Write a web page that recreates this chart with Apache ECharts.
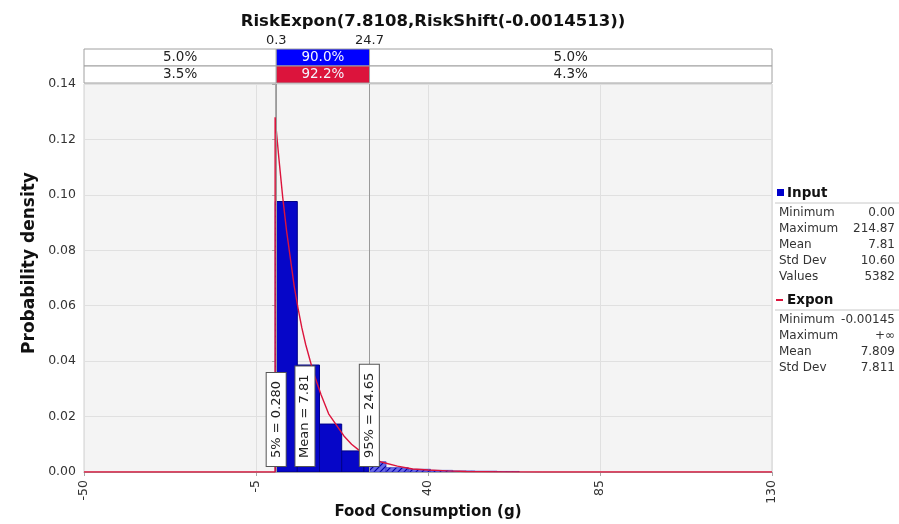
<!DOCTYPE html>
<html><head><meta charset="utf-8">
<script src="https://cdn.jsdelivr.net/npm/echarts@6/dist/echarts.min.js"></script>
<style>html,body{margin:0;padding:0;background:#fff}#c{width:899px;height:524px}</style>
</head><body><div id="c"></div>
<script>
// ---- data ----
const binStart = 0;
const binWidth = 5.807;
const binHeights = [0.0976, 0.0386, 0.0173, 0.0076, 0.0037, 0.0016, 0.0010, 0.0006, 0.0004, 0.0003, 0.0002];
const curveX = [-50, 0, 0, 1, 2, 3, 4, 5, 6, 7, 8, 10, 12, 14, 16, 18, 20, 22, 25, 28, 32, 36, 40, 45, 50, 60, 70, 90, 130];
const curveY = [0, 0, 0.128, 0.113, 0.099, 0.087, 0.077, 0.067, 0.059, 0.052, 0.046, 0.036, 0.028, 0.021, 0.017, 0.013, 0.010, 0.0078, 0.0052, 0.0035, 0.0021, 0.0011, 0.0007, 0.0004, 0.0002, 0.00006, 0.00002, 0, 0];
const markerValues = [0.28, 7.81, 24.65];
const markerLabels = ['5% = 0.280', 'Mean = 7.81', '95% = 24.65'];
const bandEdges = [0.3, 24.7];
const bandEdgeLabels = ['0.3', '24.7'];
const bandRowInput = ['5.0%', '90.0%', '5.0%'];
const bandRowFit = ['3.5%', '92.2%', '4.3%'];
const titleText = 'RiskExpon(7.8108,RiskShift(-0.0014513))';
const xTitle = 'Food Consumption (g)';
const yTitle = 'Probability density';
const inputStatNames = ['Minimum', 'Maximum', 'Mean', 'Std Dev', 'Values'];
const inputStatValues = ['0.00', '214.87', '7.81', '10.60', '5382'];
const fitStatNames = ['Minimum', 'Maximum', 'Mean', 'Std Dev'];
const fitStatValues = ['-0.00145', '+\u221e', '7.809', '7.811'];

// ---- styling ----
const FONT = 'DejaVu Sans';
const BLUE = '#0000ff';
const BAR = '#0606c8';
const RED = '#dc143c';
const XMIN = -50, XMAX = 130;

// hatch pattern
const pc = document.createElement('canvas');
pc.width = 6; pc.height = 6;
const g = pc.getContext('2d');
g.fillStyle = '#6a6ae8'; g.fillRect(0, 0, 6, 6);
g.strokeStyle = '#0000a8'; g.lineWidth = 1.2;
g.beginPath(); g.moveTo(0, 6); g.lineTo(6, 0); g.moveTo(-3, 3); g.lineTo(3, -3); g.moveTo(3, 9); g.lineTo(9, 3); g.stroke();
const HATCH = { image: pc, repeat: 'repeat' };

const barData = binHeights.map((h, i) => [binStart + i * binWidth, binStart + (i + 1) * binWidth, h]);
const curveData = curveX.map((x, i) => [x, curveY[i]]);
const bandData = [];
[bandRowInput, bandRowFit].forEach((row, r) => {
  const edges = [XMIN, bandEdges[0], bandEdges[1], XMAX];
  row.forEach((t, k) => bandData.push([r, edges[k], edges[k + 1], t, k === 1 ? (r === 0 ? BLUE : RED) : '#ffffff']));
});

const chart = echarts.init(document.getElementById('c'));
const grayLine = '#a8a8a8';

const statEls = [];
function addTable(y0, titleTxt, marker, names, vals) {
  statEls.push(marker);
  statEls.push({ type: 'text', x: 787, y: y0, style: { text: titleTxt, font: 'bold 13.5px ' + FONT, fill: '#111', verticalAlign: 'middle' } });
  statEls.push({ type: 'line', shape: { x1: 775, y1: y0 + 10, x2: 899, y2: y0 + 10 }, style: { stroke: '#c8c8c8', lineWidth: 1 } });
  names.forEach((n, i) => {
    const y = y0 + 20 + 16 * i;
    statEls.push({ type: 'text', x: 779, y: y, style: { text: n, font: '12px ' + FONT, fill: '#333', verticalAlign: 'middle', align: 'left' } });
    statEls.push({ type: 'text', x: 895, y: y, style: { text: vals[i], font: '12px ' + FONT, fill: '#333', verticalAlign: 'middle', align: 'right' } });
  });
}
addTable(193, 'Input', { type: 'rect', shape: { x: 777, y: 189, width: 7, height: 7 }, style: { fill: '#0000cc' } }, inputStatNames, inputStatValues);
addTable(300, 'Expon', { type: 'line', shape: { x1: 776, y1: 300, x2: 783, y2: 300 }, style: { stroke: RED, lineWidth: 2 } }, fitStatNames, fitStatValues);

chart.setOption({
  animation: false,
  backgroundColor: '#ffffff',
  title: {
    text: titleText, left: 428, top: 8, textAlign: 'center',
    textStyle: { fontFamily: FONT, fontSize: 16.5, fontWeight: 'bold', color: '#111' }
  },
  grid: [
    { left: 84, right: 127, top: 84, bottom: 52, outerBoundsMode: 'none', containLabel: false, show: true, backgroundColor: '#f4f4f4', borderColor: '#d0d0d0', borderWidth: 1 },
    { left: 84, right: 127, top: 49, height: 34, outerBoundsMode: 'none', containLabel: false }
  ],
  xAxis: [
    {
      type: 'value', gridIndex: 0, min: XMIN, max: XMAX, interval: 45,
      axisLine: { show: true, onZero: false, lineStyle: { color: grayLine } },
      axisTick: { show: true, length: 4, lineStyle: { color: grayLine } },
      axisLabel: { rotate: 90, fontSize: 12.5, fontFamily: FONT, color: '#333', margin: 8 },
      splitLine: { show: true, lineStyle: { color: '#e0e0e0' } }
    },
    {
      type: 'value', gridIndex: 1, min: XMIN, max: XMAX, position: 'top',
      axisLine: { show: false },
      axisTick: { show: true, customValues: bandEdges, length: 2, inside: true, lineStyle: { color: '#111', width: 3 } },
      axisLabel: { show: true, customValues: bandEdges, formatter: (v) => bandEdgeLabels[bandEdges.indexOf(v)] ?? '', fontSize: 13, fontFamily: FONT, color: '#222', margin: 2 },
      splitLine: { show: false }
    }
  ],
  yAxis: [
    {
      type: 'value', gridIndex: 0, min: 0, max: 0.14, interval: 0.02,
      axisLine: { show: true, lineStyle: { color: grayLine } },
      axisTick: { show: true, length: 3, lineStyle: { color: grayLine } },
      axisLabel: { formatter: (v) => v.toFixed(2), fontSize: 12.5, fontFamily: FONT, color: '#333', margin: 8 },
      splitLine: { show: true, lineStyle: { color: '#e0e0e0' } }
    },
    {
      type: 'category', gridIndex: 1, data: ['in', 'fit'], inverse: true, show: false
    }
  ],
  graphic: [
    { type: 'text', x: 30, y: 263, rotation: Math.PI / 2,
      style: { text: yTitle, font: 'bold 17px ' + FONT, fill: '#111', align: 'center', verticalAlign: 'middle' } },
    { type: 'text', x: 428, y: 512,
      style: { text: xTitle, font: 'bold 15px ' + FONT, fill: '#111', align: 'center', verticalAlign: 'middle' } },
    ...statEls
  ],
  series: [
    {
      type: 'custom', xAxisIndex: 1, yAxisIndex: 1, data: bandData, z: 3,
      renderItem: (params, api) => {
        const r = api.value(0);
        const p0 = api.coord([api.value(1), r]);
        const p1 = api.coord([api.value(2), r]);
        const h = api.size([0, 1])[1];
        const fill = bandData[params.dataIndex][4];
        const colored = fill !== '#ffffff';
        return {
          type: 'rect',
          shape: { x: p0[0], y: p0[1] - h / 2, width: p1[0] - p0[0], height: h },
          style: { fill: fill, stroke: '#a0a0a0', lineWidth: 1 },
          textContent: {
            style: {
              text: bandData[params.dataIndex][3],
              fill: colored ? '#f4f4ff' : '#222',
              font: '13.5px ' + FONT
            }
          },
          textConfig: { position: 'inside' }
        };
      }
    },
    {
      type: 'custom', xAxisIndex: 0, yAxisIndex: 0, data: barData, z: 3, clip: true,
      renderItem: (params, api) => {
        const x0 = api.value(0), x1 = api.value(1), h = api.value(2);
        const lo = markerValues[0], hi = markerValues[2];
        const children = [];
        const rectOf = (a, b) => {
          const pa = api.coord([a, h]); const pb = api.coord([b, 0]);
          return { x: pa[0], y: pa[1], width: pb[0] - pa[0], height: pb[1] - pa[1] };
        };
        const s0 = Math.max(x0, lo), s1 = Math.min(x1, hi);
        if (s1 > s0) children.push({ type: 'rect', shape: rectOf(s0, s1), style: { fill: BAR, stroke: '#000088', lineWidth: 1 } });
        if (x0 < lo) children.push({ type: 'rect', shape: rectOf(x0, Math.min(x1, lo)), style: { fill: HATCH, stroke: '#3030c0', lineWidth: 0.6 } });
        if (x1 > hi) children.push({ type: 'rect', shape: rectOf(Math.max(x0, hi), x1), style: { fill: HATCH, stroke: '#3030c0', lineWidth: 0.6 } });
        return { type: 'group', children };
      }
    },
    {
      type: 'line', xAxisIndex: 0, yAxisIndex: 0, data: curveData, symbol: 'none', z: 4,
      lineStyle: { color: RED, width: 1.4 }
    },
    {
      type: 'line', xAxisIndex: 0, yAxisIndex: 0, data: [], z: 6,
      markLine: {
        silent: true, symbol: 'none', animation: false,
        lineStyle: { color: '#9a9a9a', width: 1, type: 'solid' },
        label: {
          show: true, position: 'insideStart', distance: 6,
          backgroundColor: '#ffffff', borderColor: '#555', borderWidth: 1,
          padding: [3, 8], color: '#222', fontSize: 13, fontFamily: FONT
        },
        data: markerValues.map((v, i) => ({
          xAxis: v,
          label: { formatter: markerLabels[i] },
          lineStyle: i === 1 ? { color: 'rgba(0,0,0,0)' } : {}
        }))
      }
    }
  ]
});
</script>
</body></html>
